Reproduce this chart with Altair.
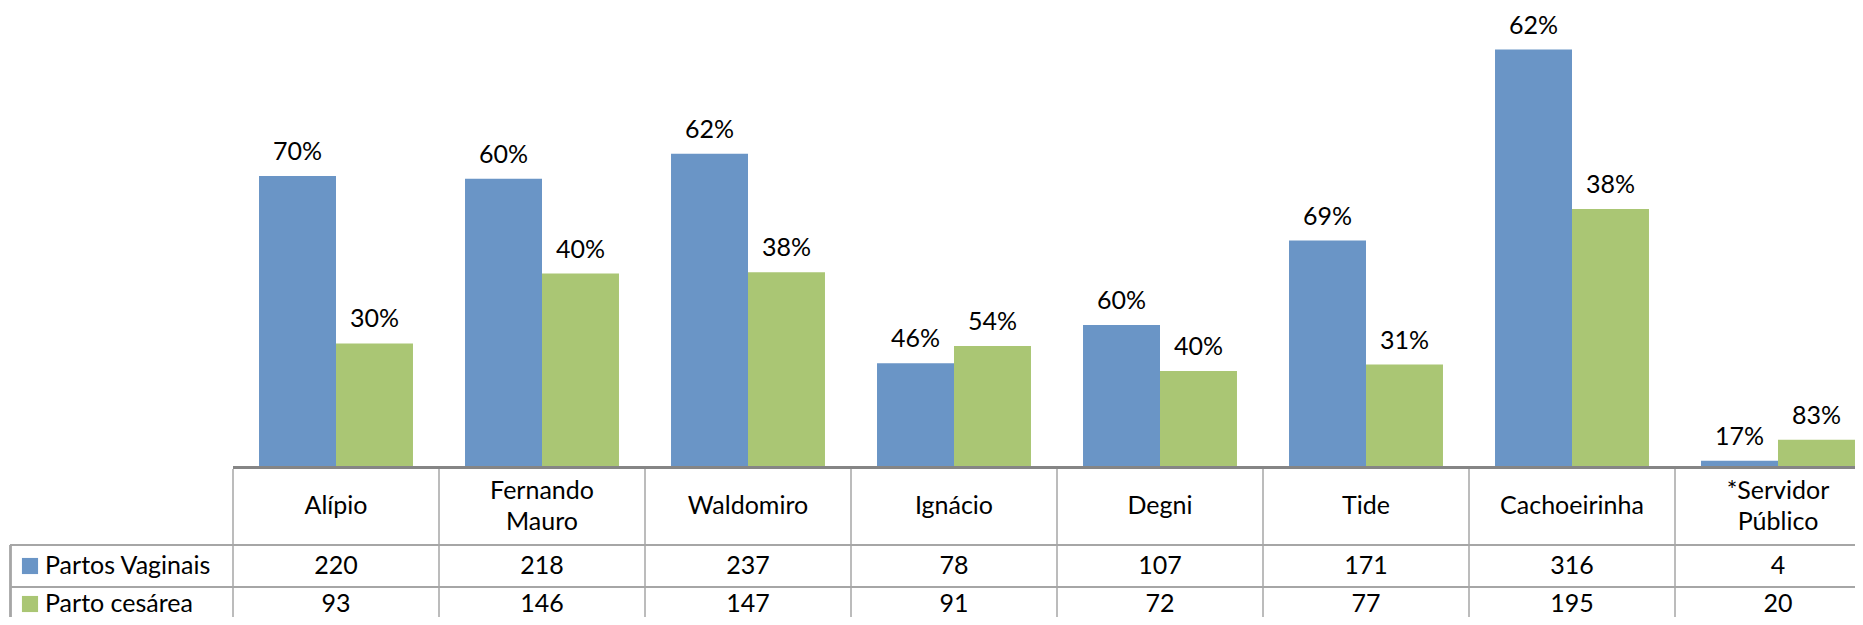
import altair as alt
import pandas as pd

# ---- data ----
categories = ["Alípio", "Fernando Mauro", "Waldomiro", "Ignácio", "Degni", "Tide",
              "Cachoeirinha", "*Servidor Público"]
header_labels = ["Alípio", "Fernando\nMauro", "Waldomiro", "Ignácio", "Degni", "Tide",
                 "Cachoeirinha", "*Servidor\nPúblico"]
series_names = ["Partos Vaginais", "Parto cesárea"]
partos_vaginais = [220, 218, 237, 78, 107, 171, 316, 4]
parto_cesarea = [93, 146, 147, 91, 72, 77, 195, 20]
series_colors = ["#6A95C6", "#AAC674"]

rows = []
for i, cat in enumerate(categories):
    total = partos_vaginais[i] + parto_cesarea[i]
    for name, vals in zip(series_names, [partos_vaginais, parto_cesarea]):
        v = vals[i]
        rows.append({"category": cat, "series": name, "count": v,
                     "pct": f"{round(100 * v / total)}%"})
df = pd.DataFrame(rows)
df_cat = pd.DataFrame({"category": categories, "header": header_labels})
df_cat["lines"] = df_cat["header"].str.count("\n") + 1
df_series = pd.DataFrame({"series": series_names})

# ---- layout (pixels, chart coordinates) ----
W, H = 1847, 609
FONT = "Lato"
FS = 25
LH = 31
base_y = 458
header_mid = 498
x_scale = alt.Scale(domain=categories, range=[225, 1873], paddingInner=0, paddingOuter=0)
y_scale = alt.Scale(domain=[0, 458 / 1.318], range=[base_y, 0], nice=False, zero=True)
color_scale = alt.Scale(domain=series_names, range=series_colors)
row_y = {"Partos Vaginais": 558, "Parto cesárea": 596}
line_col = "#A6A6A6"

X = alt.X("category:N", scale=x_scale, axis=None, sort=categories)
XO = alt.XOffset("series:N", scale=alt.Scale(domain=series_names, paddingOuter=0.338,
                                              paddingInner=0), sort=series_names)

bars = alt.Chart(df).mark_bar().encode(
    x=X, xOffset=XO,
    y=alt.Y("count:Q", scale=y_scale, axis=None),
    color=alt.Color("series:N", scale=color_scale, legend=None),
)

pct = alt.Chart(df).mark_text(font=FONT, fontSize=FS, baseline="alphabetic", dy=-16,
                              color="black").encode(
    x=X, xOffset=XO,
    y=alt.Y("count:Q", scale=y_scale, axis=None),
    text="pct:N",
)

axis_line = alt.Chart(df_cat).mark_rule(color="#858585", strokeWidth=3).encode(
    x=alt.value(225), x2=alt.value(W), y=alt.value(459.5))

hline1 = alt.Chart(df_cat).mark_rule(color=line_col, strokeWidth=1.5).encode(
    x=alt.value(2.5), x2=alt.value(W), y=alt.value(537))
hline2 = alt.Chart(df_cat).mark_rule(color=line_col, strokeWidth=1.5).encode(
    x=alt.value(2.5), x2=alt.value(W), y=alt.value(579))

vlines = alt.Chart(df_cat).mark_rule(color=line_col, strokeWidth=1.5).encode(
    x=alt.X("category:N", scale=x_scale, axis=None, sort=categories, bandPosition=0),
    y=alt.value(461), y2=alt.value(H))
left_border = alt.Chart(df_cat).mark_rule(color=line_col, strokeWidth=1.5).encode(
    x=alt.value(2.5), y=alt.value(537), y2=alt.value(H))

header_layers = []
for n in [1, 2]:
    header_layers.append(
        alt.Chart(df_cat).transform_filter(alt.datum.lines == n)
        .mark_text(font=FONT, fontSize=FS, lineBreak="\n", lineHeight=LH,
                   baseline="middle", color="black")
        .encode(x=X, y=alt.value(header_mid - (n - 1) * LH / 2), text="header:N"))

value_layers = []
legend_layers = []
for name in series_names:
    value_layers.append(
        alt.Chart(df).transform_filter(alt.datum.series == name)
        .mark_text(font=FONT, fontSize=FS, baseline="middle", color="black")
        .encode(x=X, y=alt.value(row_y[name]), text="count:Q"))
    sub = alt.Chart(df_series).transform_filter(alt.datum.series == name)
    legend_layers.append(
        sub.mark_square(size=260, opacity=1).encode(
            x=alt.value(22), y=alt.value(row_y[name]),
            color=alt.Color("series:N", scale=color_scale, legend=None)))
    legend_layers.append(
        sub.mark_text(font=FONT, fontSize=FS, baseline="middle", align="left",
                      color="black").encode(
            x=alt.value(37), y=alt.value(row_y[name]), text="series:N"))

chart = alt.layer(
    bars, pct, hline1, hline2, vlines, left_border, axis_line,
    *header_layers, *value_layers, *legend_layers
).properties(
    width=W, height=H, autosize=alt.AutoSizeParams(type="none"), padding=0,
    background="white"
).configure_view(stroke=None)

chart.save("out.html", embed_options={"renderer": "svg", "actions": False})
